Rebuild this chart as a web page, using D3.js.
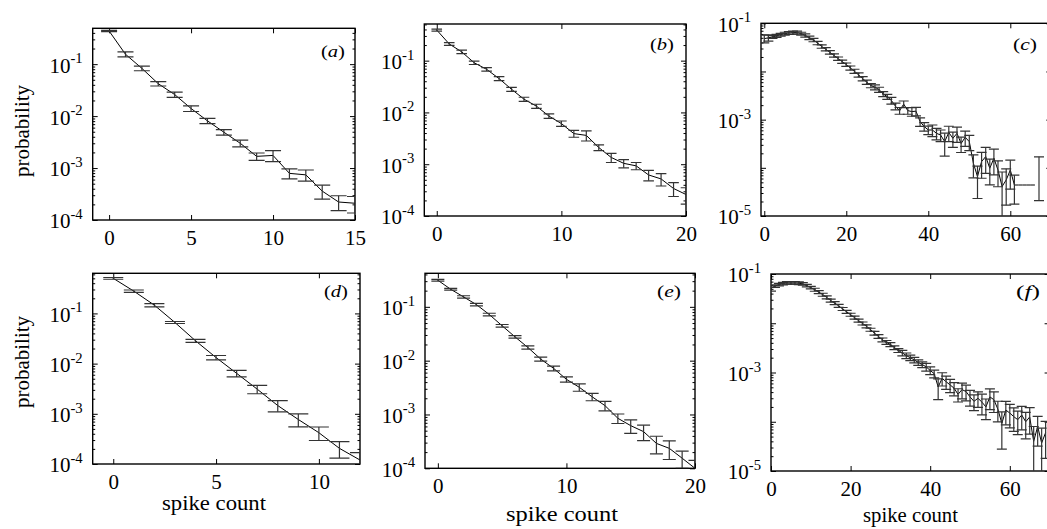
<!DOCTYPE html>
<html><head><meta charset="utf-8">
<script src="https://cdn.jsdelivr.net/npm/d3@7"></script>
<style>
body{margin:0;background:#fff}
text{font-family:"Liberation Serif","Times New Roman",serif;fill:#000}
</style>
</head><body>
<svg id="chart" width="1047" height="529"></svg>
<script>
// ---------------- data ----------------
const aProb = [0.435,0.155,0.083,0.042,0.026,0.014,0.0081,0.0049,0.0030,0.00168,0.00175,0.00079,0.00074,0.00036,0.000222,0.00021];
const aErr  = [0.03,0.11,0.10,0.096,0.117,0.125,0.117,0.125,0.146,0.16,0.24,0.218,0.24,0.30,0.32,0.35];

const bProb = [0.39,0.21,0.148,0.091,0.068,0.045,0.028,0.018,0.0132,0.0085,0.0061,0.0039,0.0036,0.0021,0.00135,0.00104,0.00093,0.00062,0.00052,0.00034,0.00026];
const bErr  = [0.045,0.06,0.074,0.074,0.074,0.09,0.09,0.09,0.09,0.10,0.12,0.15,0.22,0.13,0.2,0.18,0.16,0.23,0.27,0.3,0.35];

const cProb = [0.048,0.050,0.052,0.055,0.058,0.061,0.063,0.064,0.064,0.061,
               0.056,0.050,0.045,0.039,0.033,0.029,0.025,0.0215,0.0185,0.016,
               0.0139,0.0118,0.0101,0.0085,0.0071,0.006,0.0051,0.0047,0.0042,0.0034,
               0.003,0.0025,0.0019,0.00154,0.0021,0.00154,0.00147,0.0015,0.00091,0.00072,
               0.00061,0.00061,0.00052,0.00048,0.00035,0.00054,0.00041,0.00052,0.00032,0.00043,
               0.00035,0.000124,0.000066,0.000135,0.000171,0.000098,0.000158,0.00009,0.000041,0.000056,
               0.00009,0.000044,0.000044,0.000044,0.000044,0.000044,0.000044,0.000095];
const cErr  = [0.18,0.15,0.07,0.07,0.07,0.07,0.07,0.07,0.07,0.07,
               0.08,0.08,0.08,0.08,0.08,0.08,0.08,0.08,0.08,0.08,
               0.08,0.1,0.1,0.1,0.1,0.1,0.1,0.12,0.12,0.12,
               0.12,0.16,0.16,0.16,0.16,0.16,0.2,0.2,0.2,0.2,
               0.2,0.27,0.27,0.27,0.5,0.35,0.35,0.35,0.35,0.35,
               0.35,0.5,0.65,0.55,0.55,0.55,0.55,0.55,1.0,0.7,
               0.6,0.6,null,null,null,null,null,0.78];
const cIsolated = [67];

const dProb = [0.50,0.278,0.146,0.066,0.0285,0.0132,0.0064,0.0031,0.00146,0.00077,0.00042,0.000205,0.00012];
const dErr  = [0.04,0.053,0.076,0.045,0.07,0.1,0.15,0.19,0.25,0.29,0.3,0.36,0.4];

const eProb = [0.312,0.212,0.153,0.110,0.072,0.0444,0.0277,0.0176,0.0107,0.0072,0.0045,0.0032,0.00213,0.00146,0.00085,0.00062,0.00048,0.00029,0.000235,0.000154,0.0001];
const eErr  = [0.036,0.036,0.05,0.05,0.057,0.057,0.057,0.07,0.085,0.1,0.115,0.155,0.155,0.2,0.2,0.28,0.32,0.36,0.38,0.35,0.4];

const fProb = [0.051,0.057,0.061,0.064,0.066,0.066,0.066,0.065,0.063,0.058,
               0.053,0.048,0.043,0.038,0.0335,0.029,0.0258,0.0225,0.0195,0.017,
               0.0149,0.013,0.0113,0.0099,0.0087,0.0074,0.0063,0.0054,0.0046,0.0041,
               0.0037,0.0032,0.0028,0.0025,0.0022,0.0020,0.0018,0.0016,0.00145,0.0013,
               0.0011,0.00095,0.00051,0.00076,0.00065,0.00056,0.00048,0.00036,0.00045,0.00041,
               0.00032,0.00026,0.0003,0.00025,0.0002,0.00032,0.00028,0.00018,0.000093,0.000173,
               0.00015,0.000127,0.00011,0.000137,0.0001,0.000125,0.00004,0.00008,0.000037,0.00006];
const fErr  = [0.12,0.06,0.06,0.06,0.06,0.06,0.06,0.06,0.06,0.06,
               0.06,0.07,0.07,0.07,0.07,0.07,0.07,0.07,0.07,0.07,
               0.07,0.07,0.07,0.07,0.07,0.07,0.09,0.09,0.09,0.09,
               0.09,0.09,0.09,0.13,0.13,0.13,0.13,0.13,0.13,0.18,
               0.18,0.18,0.45,0.3,0.3,0.3,0.3,0.3,0.35,0.35,
               0.35,0.35,0.35,0.45,0.45,0.45,0.45,0.45,0.7,0.5,
               0.5,0.5,0.5,0.5,0.55,0.55,1.0,0.6,1.0,0.7];

const xTicksA = [0,5,10,15];
const xTicksB = [0,10,20];
const xTicksC = [0,20,40,60];
const xTicksD = [0,5,10];
const xTicksE = [0,10,20];
const xTicksF = [0,20,40,60];
const yLabels4 = [1e-1,1e-2,1e-3,1e-4];
const yLabelsOdd = [1e-1,1e-3,1e-5];
const panelLetters = ["a","b","c","d","e","f"];
const xTitle = "spike count";
const yTitle = "probability";

// ---------------- layout ----------------
const svg = d3.select("#chart");
const panels = [
  {prob:aProb, err:aErr, iso:[], box:[92.7,28.3,355,220], xd:[-1,15], yd:[1e-4,0.49], xt:xTicksA, yl:yLabels4, cap:8, lab:[345,56.5]},
  {prob:bProb, err:bErr, iso:[], box:[424.3,24,686,216], xd:[-1,20], yd:[1e-4,0.51], xt:xTicksB, yl:yLabels4, cap:5.3, lab:[674,50]},
  {prob:cProb, err:cErr, iso:cIsolated, box:[761,23.3,1051.3,216], xd:[-0.8,70], yd:[1e-5,1e-1], xt:xTicksC, yl:yLabelsOdd, cap:5, lab:[1037,50]},
  {prob:dProb, err:dErr, iso:[], box:[92.7,273.3,360,464], xd:[-1,12], yd:[1e-4,0.63], xt:xTicksD, yl:yLabels4, cap:10, lab:[348,296.5]},
  {prob:eProb, err:eErr, iso:[], box:[425,273.3,695,468.3], xd:[-1,20], yd:[1e-4,0.42], xt:xTicksE, yl:yLabels4, cap:6.5, lab:[681,296.5]},
  {prob:fProb, err:fErr, iso:[], box:[771,274,1049.6,471], xd:[0,70], yd:[1e-5,1e-1], xt:xTicksF, yl:yLabelsOdd, cap:5, lab:[1040,296.5]}
];
const tickScaleX = 1.05;

panels.forEach((p, pi) => {
  const [L,T,R,B] = p.box;
  const x = d3.scaleLinear().domain(p.xd).range([L,R]);
  const y = d3.scaleLog().domain(p.yd).range([B,T]);
  const g = svg.append("g");
  const clipId = "clip" + pi;
  svg.append("defs").append("clipPath").attr("id", clipId)
    .append("rect").attr("x", L).attr("y", T).attr("width", R-L).attr("height", B-T);

  const lo = Math.round(Math.log10(p.yd[0])), hi = Math.floor(Math.log10(p.yd[1]) + 1e-9);
  const decades = d3.range(lo, hi+1).map(e => Math.pow(10, e));
  const minors = [];
  d3.range(lo, hi+1).forEach(e => { for (let k=2;k<=9;k++){ const v=k*Math.pow(10,e); if (v<=p.yd[1]) minors.push(v);} });

  const axB = g.append("g").attr("transform", `translate(0,${B})`)
    .call(d3.axisBottom(x).tickValues(p.xt).tickSize(-5).tickPadding(11).tickFormat(d3.format("d")));
  axB.attr("font-family", null).attr("font-size", null);
  axB.selectAll("text").attr("font-size", 20).attr("transform", `scale(${tickScaleX},1)`);
  g.append("g").attr("transform", `translate(0,${T})`)
    .call(d3.axisTop(x).tickValues(p.xt).tickSize(-5).tickFormat(""));
  g.append("g").attr("transform", `translate(${L},0)`)
    .call(d3.axisLeft(y).tickValues(decades).tickSize(-5).tickFormat(""));
  g.append("g").attr("transform", `translate(${L},0)`)
    .call(d3.axisLeft(y).tickValues(minors).tickSize(-2.5).tickFormat(""));
  g.append("g").attr("transform", `translate(${R},0)`)
    .call(d3.axisRight(y).tickValues(decades).tickSize(-5).tickFormat(""));
  g.append("g").attr("transform", `translate(${R},0)`)
    .call(d3.axisRight(y).tickValues(minors).tickSize(-2.5).tickFormat(""));
  g.selectAll(".domain").remove();
  g.selectAll(".tick line").attr("stroke", "#000").attr("stroke-width", 1);

  // y labels 10^n
  p.yl.forEach(v => {
    const t = g.append("g").attr("transform", `translate(${L-10},${y(v)+8.4}) scale(${tickScaleX},1)`)
      .append("text").attr("text-anchor", "end").attr("font-size", 20);
    t.append("tspan").text("10");
    t.append("tspan").attr("font-size", 14).attr("dy", -9.4).text(String(Math.round(Math.log10(v))));
  });

  // frame
  g.append("rect").attr("x", L).attr("y", T).attr("width", R-L).attr("height", B-T)
    .attr("fill", "none").attr("stroke", "#000").attr("stroke-width", 1.4);

  // data
  const plot = g.append("g").attr("clip-path", `url(#${clipId})`);
  const idx = d3.range(p.prob.length);
  const line = d3.line()
    .defined(i => p.prob[i] != null && !p.iso.includes(i))
    .x(i => x(i)).y(i => y(p.prob[i]));
  plot.append("path").datum(idx).attr("d", line)
    .attr("fill", "none").attr("stroke", "#000").attr("stroke-width", 1);

  const bars = idx.filter(i => p.prob[i] != null && p.err[i] != null);
  const yLow = i => { const v = p.prob[i]*(1-p.err[i]); return v > 0 ? y(v) : B + 20; };
  const yHigh = i => y(p.prob[i]*(1+p.err[i]));
  const eb = plot.selectAll("g.eb").data(bars).join("g").attr("class","eb")
    .attr("stroke", "#333").attr("stroke-width", 1.2);
  eb.append("line").attr("x1", i => x(i)).attr("x2", i => x(i)).attr("y1", yLow).attr("y2", yHigh);
  eb.append("line").attr("x1", i => x(i)-p.cap).attr("x2", i => x(i)+p.cap).attr("y1", yLow).attr("y2", yLow);
  eb.append("line").attr("x1", i => x(i)-p.cap).attr("x2", i => x(i)+p.cap).attr("y1", yHigh).attr("y2", yHigh);

  // panel letter
  const lt = g.append("text").attr("x", p.lab[0]).attr("y", p.lab[1]).attr("text-anchor", "end")
    .attr("font-size", 17).attr("textLength", 24).attr("lengthAdjust", "spacingAndGlyphs");
  lt.append("tspan").text("(");
  lt.append("tspan").attr("font-style", "italic").text(panelLetters[pi]);
  lt.append("tspan").text(")");
});

// axis titles
[[23.5,131],[23.5,362]].forEach(([cx,cy]) => {
  svg.append("text").attr("transform", `translate(${cx+5},${cy}) rotate(-90)`)
    .attr("text-anchor", "middle").attr("font-size", 21).text(yTitle);
});
[[214,510,104],[562,521,112],[910.5,522,95]].forEach(([cx,by,w]) => {
  svg.append("text").attr("x", cx - w/2).attr("y", by).attr("font-size", 21)
    .attr("textLength", w).attr("lengthAdjust", "spacingAndGlyphs").text(xTitle);
});
</script>
</body></html>
